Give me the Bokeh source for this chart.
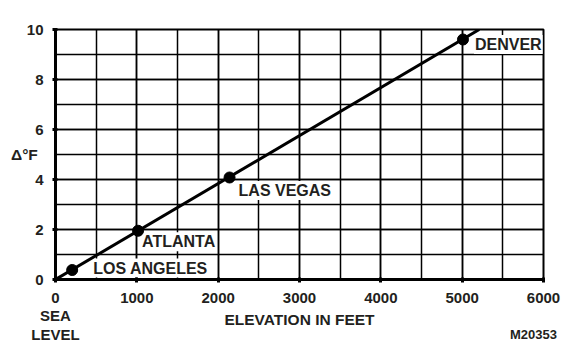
from bokeh.plotting import figure, ColumnDataSource
from bokeh.models import SingleIntervalTicker, FixedTicker, Range1d, LinearAxis
from bokeh.core.properties import value
from bokeh.embed import file_html
from bokeh.resources import INLINE

# ---- data ----
cities = ["LOS ANGELES", "ATLANTA", "LAS VEGAS", "DENVER"]
elevation_ft = [205, 1015, 2140, 5010]
delta_f = [0.38, 1.95, 4.08, 9.6]
trend_ft = [0, 5210]
trend_f = [0, 10]
x_label = "ELEVATION IN FEET"
y_label = "Δ°F"
zero_label = "0\nSEA\nLEVEL"
figure_code = "M20353"

FONT = "Liberation Sans"
TXT = "#231f20"

p = figure(width=578, height=356, output_backend="svg", toolbar_location=None,
           x_range=Range1d(0, 6000), y_range=Range1d(0, 10),
           min_border_left=55, min_border_right=35, min_border_top=29, min_border_bottom=77)
p.background_fill_color = "white"
p.border_fill_color = "white"
p.outline_line_color = "black"
p.outline_line_width = 2

p.xaxis.ticker = SingleIntervalTicker(interval=1000, num_minor_ticks=2)
p.yaxis.ticker = SingleIntervalTicker(interval=2, num_minor_ticks=2)
p.xgrid.ticker = p.xaxis.ticker
p.ygrid.ticker = p.yaxis.ticker
for g in (p.xgrid, p.ygrid):
    g.grid_line_color = "black"
    g.grid_line_width = 1.5
    g.grid_line_alpha = 1
    g.minor_grid_line_color = "black"
    g.minor_grid_line_width = 1.5

for ax in (p.xaxis, p.yaxis):
    ax.axis_line_color = "black"
    ax.axis_line_width = 3
    ax.major_tick_line_color = "black"
    ax.major_tick_line_width = 3
    ax.major_tick_in = 2
    ax.major_tick_out = 3
    ax.minor_tick_line_color = None
    ax.major_label_text_font = FONT
    ax.major_label_text_font_style = "bold"
    ax.major_label_text_font_size = "15px"
    ax.major_label_text_color = TXT
    ax.axis_label_text_font = FONT
    ax.axis_label_text_font_style = "bold"
    ax.axis_label_text_font_size = "15.5px"
    ax.axis_label_text_color = TXT
p.xaxis.major_label_standoff = 5
p.yaxis.major_label_standoff = 8
p.xaxis.major_label_overrides = {0: zero_label}
p.xaxis.major_label_text_line_height = 1.1

p.xaxis.axis_label = x_label
p.xaxis.axis_label_standoff = -35
p.yaxis.axis_label = y_label
p.yaxis.axis_label_orientation = "horizontal"
p.yaxis.axis_label_standoff = -14

# figure code under the chart
code_axis = LinearAxis(ticker=FixedTicker(ticks=[5877]),
                       major_label_overrides={5877: figure_code},
                       axis_line_color=None, major_tick_line_color=None,
                       minor_tick_line_color=None, major_tick_in=0, major_tick_out=0,
                       major_label_standoff=-4, major_label_text_font=FONT,
                       major_label_text_font_style="bold", major_label_text_font_size="13px",
                       major_label_text_color=TXT)
p.add_layout(code_axis, "below")

# city labels with white backgrounds
src = ColumnDataSource(dict(x=elevation_ft, y=delta_f, name=cities,
                            dx=[20, 3, 8, 11], dy=[-2, 11, 13, 5]))
p.text(x="x", y="y", text="name", source=src, x_offset="dx", y_offset="dy",
       text_font=value(FONT), text_font_style="bold", text_font_size="16px",
       text_color=TXT, text_align="left", text_baseline="middle",
       background_fill_color="white", padding=1)

p.line(trend_ft, trend_f, line_color="black", line_width=3)
p.scatter(elevation_ft, delta_f, size=11, color="black")

open("out.html", "w").write(file_html(p, INLINE))
